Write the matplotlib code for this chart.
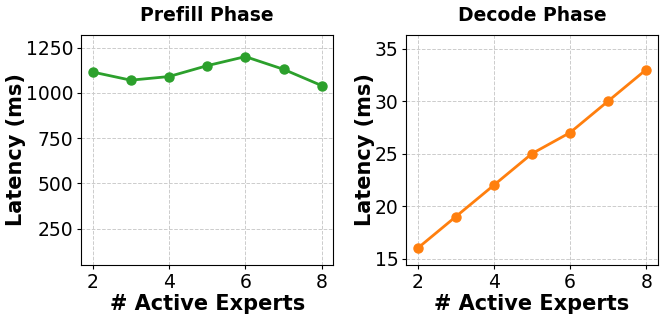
import matplotlib
matplotlib.use("Agg")
import matplotlib.pyplot as plt

experts = [2, 3, 4, 5, 6, 7, 8]
prefill_latency = [1115, 1070, 1090, 1150, 1200, 1130, 1040]
decode_latency = [16, 19, 22, 25, 27, 30, 33]
titles = ["Prefill Phase", "Decode Phase"]
xlabel = "# Active Experts"
ylabel = "Latency (ms)"

fig = plt.figure(figsize=(6.65, 3.2), dpi=100)
ax1 = fig.add_axes([0.122, 0.172, 0.379, 0.719])
ax2 = fig.add_axes([0.611, 0.172, 0.378, 0.719])

for ax, data, color, title in [(ax1, prefill_latency, "#2ca02c", titles[0]),
                               (ax2, decode_latency, "#ff7f0e", titles[1])]:
    ax.plot(experts, data, marker="o", color=color, linewidth=2, markersize=6.5)
    ax.set_title(title, fontsize=13.5, fontweight="bold", pad=10)
    ax.set_xlabel(xlabel, fontsize=15, fontweight="bold", labelpad=2)
    ax.set_ylabel(ylabel, fontsize=15, fontweight="bold", labelpad=0)
    ax.tick_params(labelsize=13.5, length=3, pad=2.5)
    ax.grid(True, linestyle="--", color="#cccccc", linewidth=0.7)
    ax.set_xticks([2, 4, 6, 8])

ax1.set_ylim(50, 1320)
ax1.set_yticks([250, 500, 750, 1000, 1250])
ax2.set_ylim(14.4, 36.3)
ax2.set_yticks([15, 20, 25, 30, 35])

fig.savefig("out.png", dpi=100)
